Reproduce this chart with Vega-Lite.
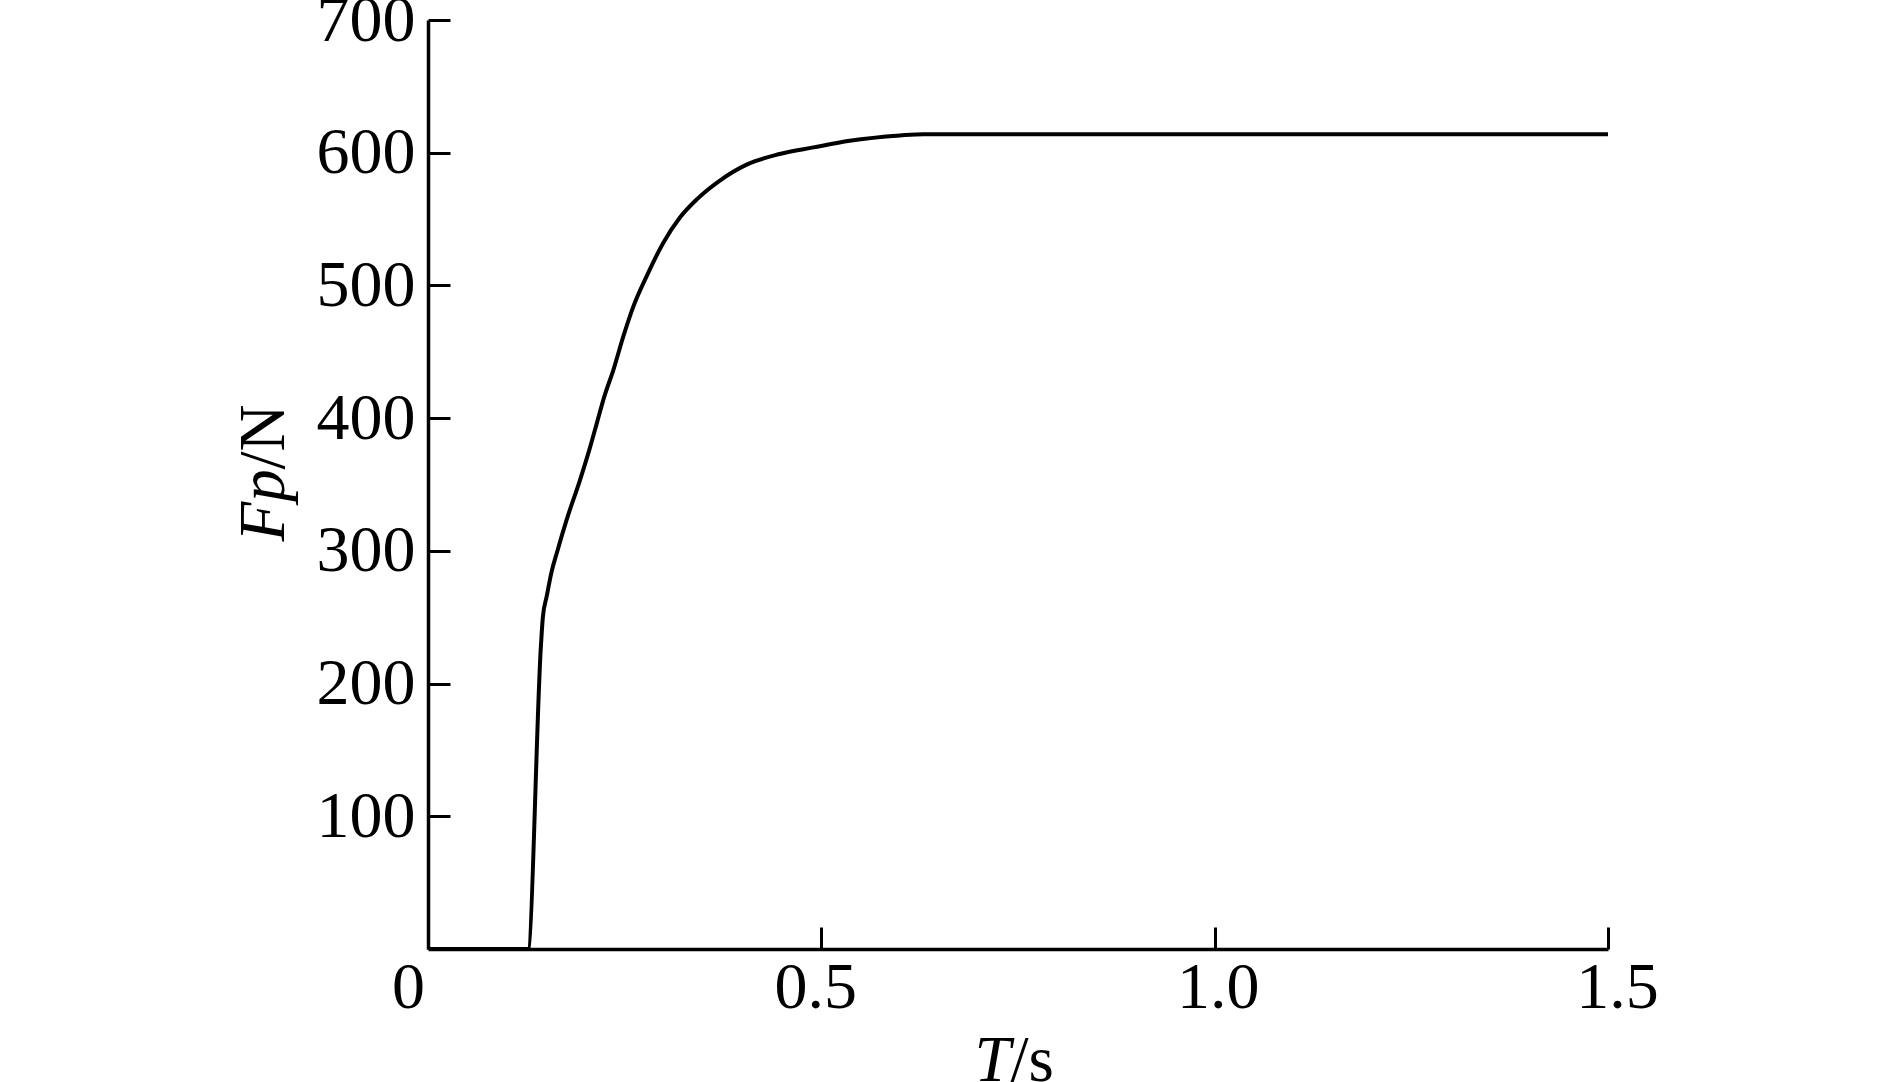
{
  "$schema": "https://vega.github.io/schema/vega-lite/v6.json",
  "width": 1180,
  "height": 929,
  "autosize": {"type": "none"},
  "padding": {"left": 428, "top": 20, "right": 281, "bottom": 133},
  "background": "white",
  "config": {
    "view": {"stroke": null},
    "font": "Liberation Serif",
    "axis": {
      "labelFont": "Liberation Serif",
      "titleFont": "Liberation Serif",
      "labelColor": "black",
      "titleColor": "black",
      "domainColor": "black",
      "tickColor": "black",
      "grid": false,
      "labelFontSize": 66,
      "titleFontSize": 65,
      "titleFontWeight": "normal",
      "domainWidth": 3.5,
      "tickWidth": 3,
      "tickSize": -22,
      "labelFlush": false,
      "labelOverlap": false,
      "labelBound": false
    }
  },
  "data": {
    "values": [
      {"t": 0, "F": 0},
      {"t": 0.127, "F": 0},
      {"t": 0.1435, "F": 228},
      {"t": 0.146, "F": 250},
      {"t": 0.151, "F": 266},
      {"t": 0.157, "F": 284},
      {"t": 0.164, "F": 299},
      {"t": 0.176, "F": 323},
      {"t": 0.193, "F": 353},
      {"t": 0.206, "F": 378},
      {"t": 0.215, "F": 397},
      {"t": 0.224, "F": 416},
      {"t": 0.236, "F": 437},
      {"t": 0.248, "F": 461},
      {"t": 0.261, "F": 484},
      {"t": 0.278, "F": 507},
      {"t": 0.299, "F": 532},
      {"t": 0.32, "F": 551},
      {"t": 0.342, "F": 565},
      {"t": 0.371, "F": 579},
      {"t": 0.405, "F": 591},
      {"t": 0.447, "F": 599},
      {"t": 0.49, "F": 604},
      {"t": 0.536, "F": 609},
      {"t": 0.6, "F": 613},
      {"t": 0.63, "F": 614},
      {"t": 1.5, "F": 614}
    ]
  },
  "layer": [
    {
      "mark": {"type": "line", "color": "black", "strokeWidth": 4, "interpolate": "monotone", "clip": true},
      "encoding": {
        "x": {
          "field": "t",
          "type": "quantitative",
          "scale": {"domain": [0, 1.5], "nice": false, "zero": false},
          "axis": {
            "orient": "bottom",
            "values": [0, 0.5, 1, 1.5],
            "labelExpr": "datum.value === 0 ? '0' : format(datum.value, '.1f')",
            "labelPadding": 28,
            "labelOffset": {"condition": [
              {"test": "datum.value === 0", "value": -20},
              {"test": "datum.value === 0.5", "value": -6},
              {"test": "datum.value === 1.5", "value": 9}
            ], "value": 3},
            "title": "T",
            "titleFontStyle": "italic",
            "titleAlign": "left",
            "titleBaseline": "alphabetic",
            "titleAngle": 0,
            "titleX": 546,
            "titleY": 131
          }
        },
        "y": {
          "field": "F",
          "type": "quantitative",
          "scale": {"domain": [0, 700], "nice": false},
          "axis": {
            "orient": "left",
            "values": [100, 200, 300, 400, 500, 600, 700],
            "labelPadding": 35,
            "labelBaseline": "middle",
            "title": "Fp",
            "titleFontStyle": "italic",
            "titleAngle": -90,
            "titleAlign": "left",
            "titleBaseline": "alphabetic",
            "titleX": -145,
            "titleY": 521
          }
        }
      }
    },
    {
      "mark": {"type": "line", "strokeOpacity": 0},
      "encoding": {
        "x": {
          "field": "t",
          "type": "quantitative",
          "axis": {
            "orient": "bottom",
            "domain": false,
            "ticks": false,
            "labels": false,
            "title": "/s",
            "titleFontStyle": "normal",
            "titleAlign": "left",
            "titleBaseline": "alphabetic",
            "titleAngle": 0,
            "titleX": 582,
            "titleY": 131
          }
        },
        "y": {
          "field": "F",
          "type": "quantitative",
          "axis": {
            "orient": "left",
            "domain": false,
            "ticks": false,
            "labels": false,
            "title": "/N",
            "titleFontStyle": "normal",
            "titleAngle": -90,
            "titleAlign": "left",
            "titleBaseline": "alphabetic",
            "titleX": -145,
            "titleY": 449
          }
        }
      }
    }
  ],
  "resolve": {"axis": {"x": "independent", "y": "independent"}}
}
